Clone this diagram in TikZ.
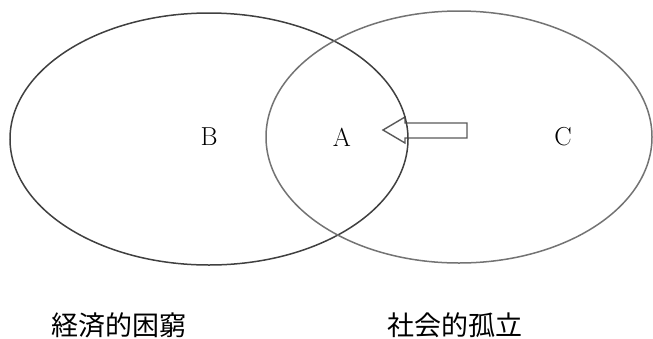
\documentclass[tikz,border=0pt]{standalone}
\usepackage{fontspec}
\newfontfamily\jpfont{Noto Sans CJK JP}
\begin{document}
\begin{tikzpicture}[x=1pt,y=-1pt,
  ring/.style={line width=1.5pt},
  lbl/.style={font=\fontsize{26}{30}\selectfont, inner sep=0pt},
  jlbl/.style={font=\jpfont\fontsize{27}{30}\selectfont, inner sep=0pt, text=black},
  hollow/.style={draw=black!65, line width=1.4pt, line join=miter}]
\useasboundingbox (0,0) rectangle (653,338);
\draw[hollow] (467,123) -- (405,123) -- (405,117) -- (383,130) -- (405,143) -- (405,138) -- (467,138) -- cycle;
\draw[ring, draw=black!75] (209,139) ellipse [x radius=199, y radius=126];
\draw[ring, draw=black!55] (459,137) ellipse [x radius=193, y radius=126];
\node[lbl] (B) at (209,137) {B};
\node[lbl] (A) at (342,137) {A};
\node[lbl] (C) at (563,137) {C};
\node[jlbl] (econ) at (119,325) {経済的困窮};
\node[jlbl] (soc) at (455,325) {社会的孤立};
\end{tikzpicture}
\end{document}
